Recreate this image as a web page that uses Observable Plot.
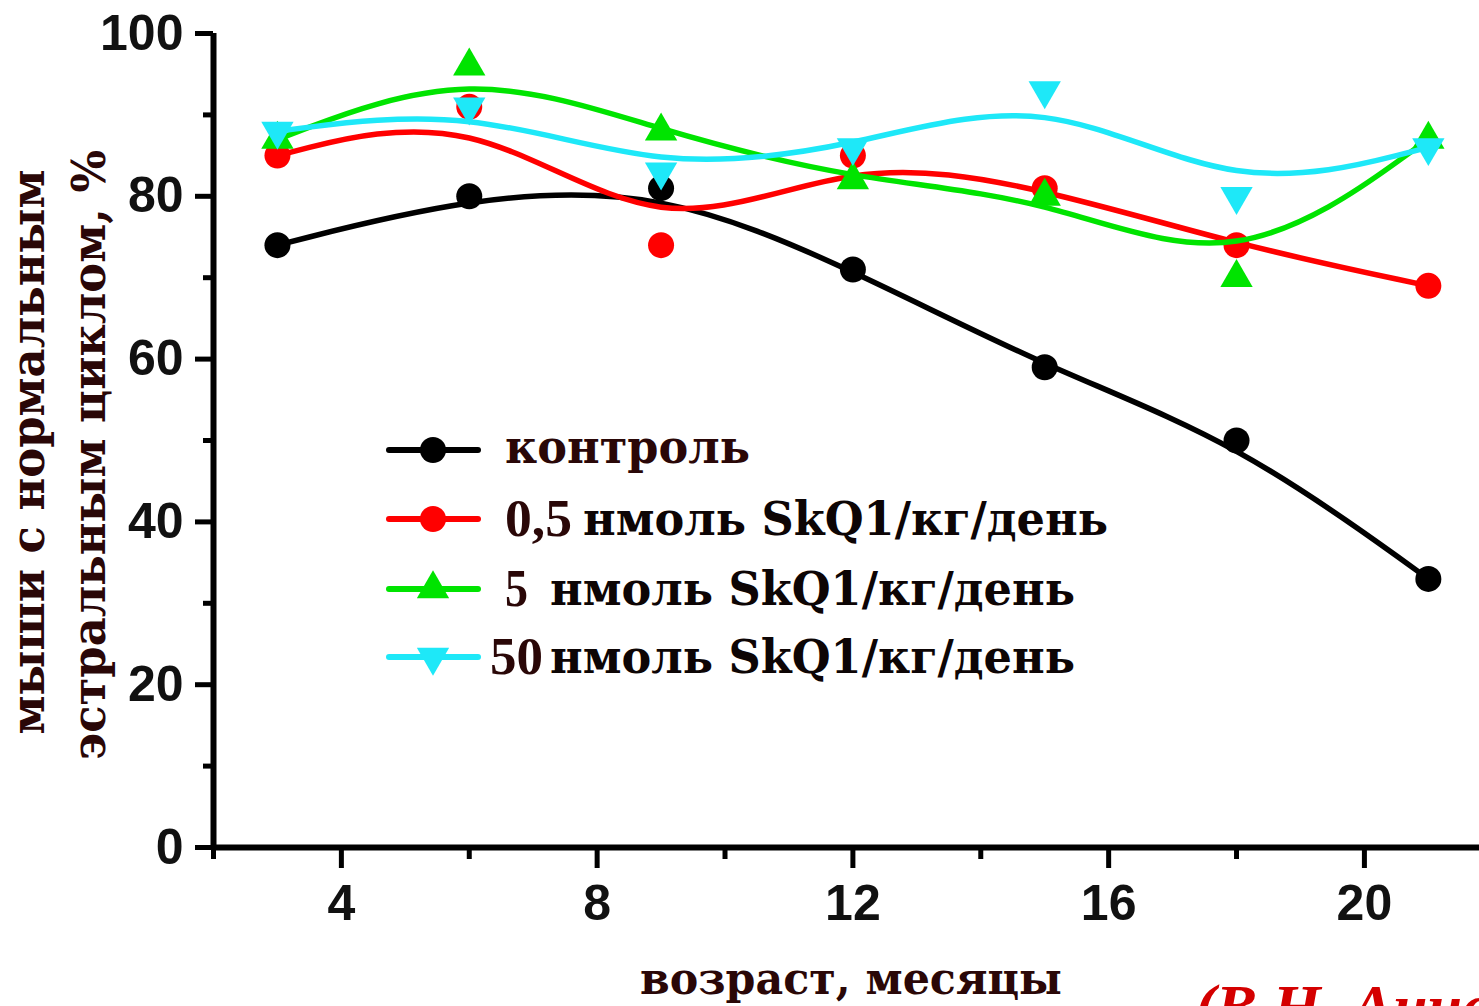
<!DOCTYPE html>
<html>
<head>
<meta charset="utf-8">
<script src="https://cdn.jsdelivr.net/npm/d3@7"></script>
<script src="https://cdn.jsdelivr.net/npm/@observablehq/plot@0.6"></script>
<style>
  html, body { margin: 0; padding: 0; background: #fff; overflow: hidden; }
  #wrap { position: relative; width: 1479px; height: 1006px; overflow: hidden; }
  #wrap > svg { position: absolute; left: 0; top: 0; }
</style>
</head>
<body>
<div id="wrap"></div>
<script>
// ---- data ----
const months = [3, 6, 9, 12, 15, 18, 21];
const control = [74, 80, 81, 71, 59, 50, 33];
const skq05 = [85, 91, 74, 85, 81, 74, 69];
const skq5 = [87, 96, 88, 82, 80, 70, 87];
const skq50 = [88, 91, 83, 86, 93, 80, 86];
const seriesNames = ["контроль", "0,5 нмоль SkQ1/кг/день", "5 нмоль SkQ1/кг/день", "50 нмоль SkQ1/кг/день"];
const seriesValues = [control, skq05, skq5, skq50];
const xMajorTicks = [4, 8, 12, 16, 20];
const xMinorTicks = [2, 6, 10, 14, 18];
const yMajorTicks = [0, 20, 40, 60, 80, 100];
const yMinorTicks = [10, 30, 50, 70, 90];

// ---- styles ----
const colors = ["#000000", "#ff0000", "#00e400", "#1ee8f8"];
const triangleDown = {
  draw(context, size) {
    const y = -Math.sqrt(size / (Math.sqrt(3) * 3));
    context.moveTo(0, -2 * y);
    context.lineTo(Math.sqrt(3) * y, y);
    context.lineTo(-Math.sqrt(3) * y, y);
    context.closePath();
  }
};
const symbols = ["circle", "circle", "triangle", triangleDown];
const radii = [13, 13, 12, 12];

const tables = seriesValues.map((vals, i) => months.map((m, j) => ({month: m, value: vals[j], series: seriesNames[i]})));

const marks = [];
tables.forEach((t, i) => {
  marks.push(Plot.line(t, {x: "month", y: "value", curve: "basis", stroke: colors[i], strokeWidth: 5.5}));
  marks.push(Plot.dot(t, {x: "month", y: "value", r: radii[i], symbol: symbols[i], fill: colors[i], stroke: "none"}));
});

const font = "'Liberation Sans', Arial, sans-serif";
const chart = Plot.plot({
  width: 1479,
  height: 1006,
  marginLeft: 213,
  marginRight: 0,
  marginTop: 33,
  marginBottom: 159,
  style: {background: "transparent", fontFamily: font, overflow: "visible"},
  x: {domain: [2, 21.8], label: null},
  y: {domain: [0, 100], label: null},
  marks: [
    Plot.axisY({ticks: yMajorTicks, tickSize: 18, tickPadding: 12, strokeWidth: 5, fontSize: 50, fontWeight: "bold", fill: "#111", label: null}),
    Plot.axisY({ticks: yMinorTicks, tickSize: 10, strokeWidth: 5, tickFormat: () => "", label: null}),
    Plot.axisX({ticks: xMajorTicks, tickSize: 21, tickPadding: 16, strokeWidth: 5, fontSize: 50, fontWeight: "bold", fill: "#111", label: null}),
    Plot.axisX({ticks: xMinorTicks, tickSize: 12, strokeWidth: 5, tickFormat: () => "", label: null}),
    Plot.ruleY([0], {strokeWidth: 6}),
    Plot.ruleX([2], {strokeWidth: 6}),
    ...marks
  ]
});
document.getElementById("wrap").appendChild(chart);

// ---- overlay: axis titles, legend, citation ----
const NS = "http://www.w3.org/2000/svg";
const ov = document.createElementNS(NS, "svg");
ov.setAttribute("width", 1479);
ov.setAttribute("height", 1006);
ov.style.pointerEvents = "none";
document.getElementById("wrap").appendChild(ov);

function addText(str, attrs) {
  const t = document.createElementNS(NS, "text");
  for (const k in attrs) t.setAttribute(k, attrs[k]);
  t.textContent = str;
  ov.appendChild(t);
  return t;
}
const serif = "'DejaVu Serif', 'Liberation Serif', serif";
const brown = "#2a0707";

// y-axis title (two lines)
addText("мыши с нормальным", {transform: "translate(44,452) rotate(-90)", "text-anchor": "middle", "font-family": serif, "font-weight": "bold", "font-size": 46, fill: brown, textLength: 565, lengthAdjust: "spacingAndGlyphs"});
addText("эстральным циклом, %", {transform: "translate(105,455) rotate(-90)", "text-anchor": "middle", "font-family": serif, "font-weight": "bold", "font-size": 46, fill: brown, textLength: 610, lengthAdjust: "spacingAndGlyphs"});
// x-axis title
addText("возраст, месяцы", {x: 851, y: 994, "text-anchor": "middle", "font-family": serif, "font-weight": "bold", "font-size": 45, fill: brown, textLength: 422, lengthAdjust: "spacingAndGlyphs"});
// citation (cut off at page edge)
addText("(В.Н. Анисимов)", {x: 1195, y: 1027, "font-family": "'Liberation Serif', serif", "font-style": "italic", "font-weight": "bold", "font-size": 62, fill: "#d40000"});

// legend
const legendRows = [450, 519, 589, 657];
const legendDose = ["", "0,5", "5", "50"];
const legendDoseX = [0, 505, 505, 490];
const legendDoseW = [0, 67, 23, 53];
const legendRestX = [505, 583, 550, 550];
const legendRest = ["контроль", "нмоль SkQ1/кг/день", "нмоль SkQ1/кг/день", "нмоль SkQ1/кг/день"];
const legendRestW = [245, 525, 525, 525];
legendRows.forEach((yy, i) => {
  const ln = document.createElementNS(NS, "line");
  ln.setAttribute("x1", 389); ln.setAttribute("x2", 478);
  ln.setAttribute("y1", yy); ln.setAttribute("y2", yy);
  ln.setAttribute("stroke", colors[i]); ln.setAttribute("stroke-width", 6); ln.setAttribute("stroke-linecap", "round");
  ov.appendChild(ln);
  const p = document.createElementNS(NS, "path");
  const sym = typeof symbols[i] === "string" ? (symbols[i] === "circle" ? d3.symbolCircle : d3.symbolTriangle) : symbols[i];
  p.setAttribute("d", d3.symbol(sym, Math.PI * radii[i] * radii[i])());
  p.setAttribute("transform", `translate(433,${yy})`);
  p.setAttribute("fill", colors[i]);
  ov.appendChild(p);
  const base = yy + (i === 0 ? 13 : 16);
  if (legendDose[i]) {
    addText(legendDose[i], {x: legendDoseX[i], y: base + 1, "font-family": "'Liberation Serif', serif", "font-weight": "bold", "font-size": 52, fill: brown, textLength: legendDoseW[i], lengthAdjust: "spacingAndGlyphs"});
  }
  addText(legendRest[i], {x: legendRestX[i], y: base, "font-family": serif, "font-weight": "bold", "font-size": 46, fill: i === 0 ? brown : "#0d0505", textLength: legendRestW[i], lengthAdjust: "spacingAndGlyphs"});
});
</script>
</body>
</html>
